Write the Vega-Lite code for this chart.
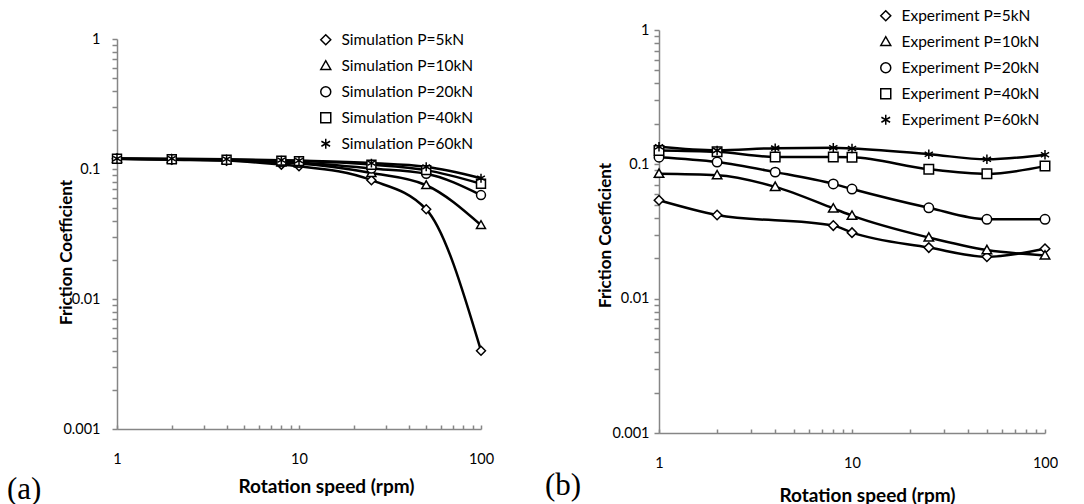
{
  "$schema": "https://vega.github.io/schema/vega-lite/v6.json",
  "padding": {"left": 7, "top": 8, "right": 0, "bottom": 0},
  "background": "white",
  "config": {
    "view": {"stroke": null},
    "font": "Lato",
    "axis": {
      "grid": false,
      "domainColor": "#868686",
      "domainWidth": 1.5,
      "labelFont": "Lato",
      "labelFontSize": 14.5,
      "labelColor": "black",
      "labelOverlap": false,
      "labelFlush": false,
      "titleFont": "Lato",
      "titleFontWeight": "bold",
      "titleColor": "black"
    },
    "legend": {
      "labelFont": "Lato",
      "labelFontSize": 15.5,
      "labelColor": "black",
      "labelOffset": 8,
      "rowPadding": 8,
      "padding": 0
    }
  },
  "datasets": {
    "sim": [
      {"series": "Simulation P=5kN", "rpm": 1, "cof": 0.12},
      {"series": "Simulation P=5kN", "rpm": 2, "cof": 0.118},
      {"series": "Simulation P=5kN", "rpm": 4, "cof": 0.116},
      {"series": "Simulation P=5kN", "rpm": 8, "cof": 0.108},
      {"series": "Simulation P=5kN", "rpm": 10, "cof": 0.105},
      {"series": "Simulation P=5kN", "rpm": 25, "cof": 0.082},
      {"series": "Simulation P=5kN", "rpm": 50, "cof": 0.049},
      {"series": "Simulation P=5kN", "rpm": 100, "cof": 0.004},
      {"series": "Simulation P=10kN", "rpm": 1, "cof": 0.12},
      {"series": "Simulation P=10kN", "rpm": 2, "cof": 0.119},
      {"series": "Simulation P=10kN", "rpm": 4, "cof": 0.117},
      {"series": "Simulation P=10kN", "rpm": 8, "cof": 0.112},
      {"series": "Simulation P=10kN", "rpm": 10, "cof": 0.11},
      {"series": "Simulation P=10kN", "rpm": 25, "cof": 0.093},
      {"series": "Simulation P=10kN", "rpm": 50, "cof": 0.075},
      {"series": "Simulation P=10kN", "rpm": 100, "cof": 0.037},
      {"series": "Simulation P=20kN", "rpm": 1, "cof": 0.12},
      {"series": "Simulation P=20kN", "rpm": 2, "cof": 0.119},
      {"series": "Simulation P=20kN", "rpm": 4, "cof": 0.117},
      {"series": "Simulation P=20kN", "rpm": 8, "cof": 0.114},
      {"series": "Simulation P=20kN", "rpm": 10, "cof": 0.112},
      {"series": "Simulation P=20kN", "rpm": 25, "cof": 0.101},
      {"series": "Simulation P=20kN", "rpm": 50, "cof": 0.092},
      {"series": "Simulation P=20kN", "rpm": 100, "cof": 0.063},
      {"series": "Simulation P=40kN", "rpm": 1, "cof": 0.12},
      {"series": "Simulation P=40kN", "rpm": 2, "cof": 0.119},
      {"series": "Simulation P=40kN", "rpm": 4, "cof": 0.118},
      {"series": "Simulation P=40kN", "rpm": 8, "cof": 0.116},
      {"series": "Simulation P=40kN", "rpm": 10, "cof": 0.115},
      {"series": "Simulation P=40kN", "rpm": 25, "cof": 0.108},
      {"series": "Simulation P=40kN", "rpm": 50, "cof": 0.098},
      {"series": "Simulation P=40kN", "rpm": 100, "cof": 0.077},
      {"series": "Simulation P=60kN", "rpm": 1, "cof": 0.12},
      {"series": "Simulation P=60kN", "rpm": 2, "cof": 0.12},
      {"series": "Simulation P=60kN", "rpm": 4, "cof": 0.119},
      {"series": "Simulation P=60kN", "rpm": 8, "cof": 0.117},
      {"series": "Simulation P=60kN", "rpm": 10, "cof": 0.116},
      {"series": "Simulation P=60kN", "rpm": 25, "cof": 0.111},
      {"series": "Simulation P=60kN", "rpm": 50, "cof": 0.104},
      {"series": "Simulation P=60kN", "rpm": 100, "cof": 0.085}
    ],
    "exp": [
      {"series": "Experiment P=5kN", "rpm": 1, "cof": 0.054},
      {"series": "Experiment P=5kN", "rpm": 2, "cof": 0.042},
      {"series": "Experiment P=5kN", "rpm": 8, "cof": 0.035},
      {"series": "Experiment P=5kN", "rpm": 10, "cof": 0.031},
      {"series": "Experiment P=5kN", "rpm": 25, "cof": 0.024},
      {"series": "Experiment P=5kN", "rpm": 50, "cof": 0.0205},
      {"series": "Experiment P=5kN", "rpm": 100, "cof": 0.0235},
      {"series": "Experiment P=10kN", "rpm": 1, "cof": 0.085},
      {"series": "Experiment P=10kN", "rpm": 2, "cof": 0.083},
      {"series": "Experiment P=10kN", "rpm": 4, "cof": 0.068},
      {"series": "Experiment P=10kN", "rpm": 8, "cof": 0.047},
      {"series": "Experiment P=10kN", "rpm": 10, "cof": 0.0415},
      {"series": "Experiment P=10kN", "rpm": 25, "cof": 0.0285},
      {"series": "Experiment P=10kN", "rpm": 50, "cof": 0.023},
      {"series": "Experiment P=10kN", "rpm": 100, "cof": 0.021},
      {"series": "Experiment P=20kN", "rpm": 1, "cof": 0.113},
      {"series": "Experiment P=20kN", "rpm": 2, "cof": 0.104},
      {"series": "Experiment P=20kN", "rpm": 4, "cof": 0.0875},
      {"series": "Experiment P=20kN", "rpm": 8, "cof": 0.0715},
      {"series": "Experiment P=20kN", "rpm": 10, "cof": 0.0655},
      {"series": "Experiment P=20kN", "rpm": 25, "cof": 0.0475},
      {"series": "Experiment P=20kN", "rpm": 50, "cof": 0.039},
      {"series": "Experiment P=20kN", "rpm": 100, "cof": 0.039},
      {"series": "Experiment P=40kN", "rpm": 1, "cof": 0.127},
      {"series": "Experiment P=40kN", "rpm": 2, "cof": 0.124},
      {"series": "Experiment P=40kN", "rpm": 4, "cof": 0.1135},
      {"series": "Experiment P=40kN", "rpm": 8, "cof": 0.1135},
      {"series": "Experiment P=40kN", "rpm": 10, "cof": 0.113},
      {"series": "Experiment P=40kN", "rpm": 25, "cof": 0.092},
      {"series": "Experiment P=40kN", "rpm": 50, "cof": 0.085},
      {"series": "Experiment P=40kN", "rpm": 100, "cof": 0.097},
      {"series": "Experiment P=60kN", "rpm": 1, "cof": 0.135},
      {"series": "Experiment P=60kN", "rpm": 2, "cof": 0.127},
      {"series": "Experiment P=60kN", "rpm": 4, "cof": 0.132},
      {"series": "Experiment P=60kN", "rpm": 8, "cof": 0.133},
      {"series": "Experiment P=60kN", "rpm": 10, "cof": 0.131},
      {"series": "Experiment P=60kN", "rpm": 25, "cof": 0.119},
      {"series": "Experiment P=60kN", "rpm": 50, "cof": 0.109},
      {"series": "Experiment P=60kN", "rpm": 100, "cof": 0.118}
    ]
  },
  "bounds": "flush",
  "spacing": 178,
  "resolve": {"scale": {"shape": "independent", "x": "independent", "y": "independent"}, "legend": {"shape": "independent"}},
  "hconcat": [
    {
      "width": 364,
      "height": 399,
      "data": {"name": "sim"},
      "title": {"text": "(a)", "orient": "bottom", "anchor": "start", "frame": "group", "font": "Liberation Serif", "fontSize": 31, "fontWeight": "normal", "color": "black", "baseline": "alphabetic", "dx": -110, "offset": 3},
      "encoding": {
        "x": {"field": "rpm", "type": "quantitative",
          "scale": {"type": "log", "domain": [1, 100]},
          "axis": {"values": [1,2,3,4,5,6,7,8,9,10,20,30,40,50,60,70,80,90,100],
            "labelExpr": "datum.value == 1 ? '1' : datum.value == 10 ? '10' : datum.value == 100 ? '100' : ''",
            "tickColor": "#868686", "tickWidth": 1.5, "tickSize": -4,
            "labelPadding": 27, "title": "Rotation speed (rpm)", "titleFontSize": 19,
            "titleX": 209, "titleY": 57, "titleBaseline": "middle", "titleAlign": "center"}},
        "y": {"field": "cof", "type": "quantitative",
          "scale": {"type": "log", "domain": [0.001, 1], "range": [399, 9]},
          "axis": {"values": [0.001,0.002,0.003,0.004,0.005,0.006,0.007,0.008,0.009,0.01,0.02,0.03,0.04,0.05,0.06,0.07,0.08,0.09,0.1,0.2,0.3,0.4,0.5,0.6,0.7,0.8,0.9,1],
            "labelExpr": "datum.value == 1 ? '1' : datum.value == 0.1 ? '0.1' : datum.value == 0.01 ? '0.01' : datum.value == 0.001 ? '0.001' : ''",
            "tickColor": "#868686", "tickWidth": 1.5, "tickSize": 5,
            "labelPadding": 12, "title": "Friction Coefficient", "titleFontSize": 17,
            "titleAngle": 270, "titleX": -51, "titleY": 222, "titleAlign": "center", "titleBaseline": "middle"}}
      },
      "layer": [
        {"mark": {"type": "line", "interpolate": "monotone", "color": "black", "strokeWidth": 2.5},
         "encoding": {"detail": {"field": "series"}}},
        {"mark": {"type": "point", "filled": false, "fill": "white", "color": "black", "strokeWidth": 1.5, "size": 80, "opacity": 1},
         "encoding": {"shape": {"field": "series", "type": "nominal",
           "scale": {"domain": ["Simulation P=5kN", "Simulation P=10kN", "Simulation P=20kN", "Simulation P=40kN", "Simulation P=60kN"],
             "range": ["M-1,0L0,-1L1,0L0,1Z", "M-1,0.75L0,-1L1,0.75Z", "circle", "square", "M0,-1L0,1M-0.87,-0.5L0.87,0.5M-0.87,0.5L0.87,-0.5"]},
           "legend": {"orient": "none", "legendX": 201, "legendY": 2, "title": null}}}}
      ]
    },
    {
      "width": 386,
      "height": 403,
      "data": {"name": "exp"},
      "title": {"text": "(b)", "orient": "bottom", "anchor": "start", "frame": "group", "font": "Liberation Serif", "fontSize": 31, "fontWeight": "normal", "color": "black", "baseline": "alphabetic", "dx": -114, "offset": -10},
      "encoding": {
        "x": {"field": "rpm", "type": "quantitative",
          "scale": {"type": "log", "domain": [1, 100]},
          "axis": {"values": [1,2,3,4,5,6,7,8,9,10,20,30,40,50,60,70,80,90,100],
            "labelExpr": "datum.value == 1 ? '1' : datum.value == 10 ? '10' : datum.value == 100 ? '100' : ''",
            "tickColor": "#868686", "tickWidth": 1.5, "tickSize": -4,
            "labelPadding": 27, "title": "Rotation speed (rpm)", "titleFontSize": 19,
            "titleX": 208, "titleY": 62, "titleBaseline": "middle", "titleAlign": "center"}},
        "y": {"field": "cof", "type": "quantitative",
          "scale": {"type": "log", "domain": [0.001, 1]},
          "axis": {"values": [0.001,0.002,0.003,0.004,0.005,0.006,0.007,0.008,0.009,0.01,0.02,0.03,0.04,0.05,0.06,0.07,0.08,0.09,0.1,0.2,0.3,0.4,0.5,0.6,0.7,0.8,0.9,1],
            "labelExpr": "datum.value == 1 ? '1' : datum.value == 0.1 ? '0.1' : datum.value == 0.01 ? '0.01' : datum.value == 0.001 ? '0.001' : ''",
            "tickColor": "#868686", "tickWidth": 1.5, "tickSize": 5,
            "labelPadding": 5, "title": "Friction Coefficient", "titleFontSize": 17,
            "titleAngle": 270, "titleX": -54, "titleY": 205, "titleAlign": "center", "titleBaseline": "middle"}}
      },
      "layer": [
        {"mark": {"type": "line", "interpolate": "monotone", "color": "black", "strokeWidth": 2.5},
         "encoding": {"detail": {"field": "series"}}},
        {"mark": {"type": "point", "filled": false, "fill": "white", "color": "black", "strokeWidth": 1.5, "size": 90, "opacity": 1},
         "encoding": {"shape": {"field": "series", "type": "nominal",
           "scale": {"domain": ["Experiment P=5kN", "Experiment P=10kN", "Experiment P=20kN", "Experiment P=40kN", "Experiment P=60kN"],
             "range": ["M-1,0L0,-1L1,0L0,1Z", "M-1,0.75L0,-1L1,0.75Z", "circle", "square", "M0,-1L0,1M-0.87,-0.5L0.87,0.5M-0.87,0.5L0.87,-0.5"]},
           "legend": {"orient": "none", "legendX": 219, "legendY": -22, "title": null}}}}
      ]
    }
  ]
}
